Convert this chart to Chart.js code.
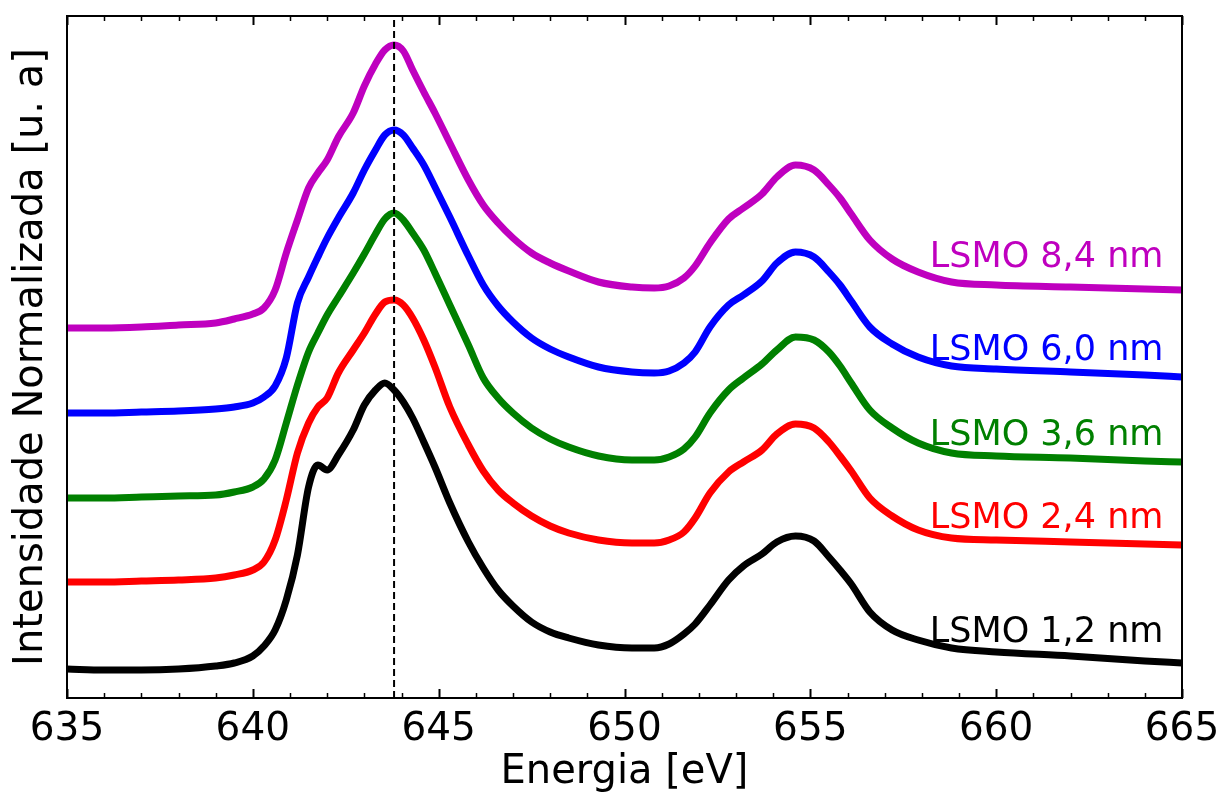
<!DOCTYPE html>
<html>

<head>
	<meta charset="utf-8">
	<script src="https://cdn.jsdelivr.net/npm/chart.js"></script>
	<style>
		body { margin: 0; background: #fff; }
	</style>
</head>

<body>
	<canvas id="myChart" width="1219" height="799"></canvas>
	<script>
		// photon energy (eV), shared by all spectra
		var energy = [635, 636, 637, 638, 639, 639.5, 640, 640.3, 640.6, 640.9,
			641.2, 641.5, 641.75, 642.0, 642.3, 642.7, 643.0, 643.3, 643.55, 643.8,
			644.05, 644.3, 644.6, 644.9, 645.3, 645.8, 646.2, 646.6, 647.0, 647.5,
			648.0, 648.5, 649.3, 650.2, 650.8, 651.2, 651.6, 651.9, 652.3, 652.8,
			653.2, 653.7, 654.1, 654.6, 655.1, 655.5, 655.8, 656.1, 656.6, 657.2,
			657.9, 658.8, 660, 662, 664, 665];

		// normalized intensity (a.u.), curves already shifted vertically
		var lsmo84 = [3.70, 3.70, 3.71, 3.73, 3.75, 3.79, 3.84, 3.90, 4.08, 4.45,
			4.78, 5.10, 5.25, 5.38, 5.61, 5.85, 6.12, 6.34, 6.48, 6.53,
			6.47, 6.28, 6.06, 5.85, 5.55, 5.18, 4.93, 4.75, 4.60, 4.45,
			4.35, 4.27, 4.16, 4.11, 4.10, 4.12, 4.20, 4.32, 4.55, 4.79,
			4.90, 5.04, 5.21, 5.33, 5.28, 5.13, 5.00, 4.84, 4.58, 4.39,
			4.26, 4.16, 4.13, 4.11, 4.09, 4.08];
		var lsmo60 = [2.85, 2.85, 2.86, 2.87, 2.89, 2.91, 2.95, 3.01, 3.12, 3.40,
			3.95, 4.21, 4.41, 4.60, 4.80, 5.05, 5.28, 5.48, 5.63, 5.68,
			5.63, 5.50, 5.33, 5.11, 4.81, 4.42, 4.13, 3.92, 3.76, 3.60,
			3.49, 3.41, 3.31, 3.26, 3.25, 3.27, 3.35, 3.46, 3.71, 3.93,
			4.03, 4.17, 4.35, 4.46, 4.41, 4.26, 4.13, 3.97, 3.71, 3.54,
			3.41, 3.32, 3.29, 3.26, 3.23, 3.21];
		var lsmo36 = [2.00, 2.00, 2.01, 2.02, 2.03, 2.06, 2.11, 2.19, 2.38, 2.75,
			3.13, 3.46, 3.65, 3.83, 4.01, 4.25, 4.44, 4.64, 4.79, 4.85,
			4.78, 4.65, 4.48, 4.25, 3.93, 3.53, 3.20, 3.00, 2.85, 2.70,
			2.59, 2.51, 2.42, 2.38, 2.38, 2.41, 2.49, 2.61, 2.85, 3.08,
			3.20, 3.34, 3.48, 3.61, 3.58, 3.46, 3.32, 3.15, 2.88, 2.70,
			2.55, 2.45, 2.42, 2.40, 2.37, 2.36];
		var lsmo24 = [1.16, 1.16, 1.17, 1.18, 1.20, 1.23, 1.28, 1.36, 1.58, 1.98,
			2.45, 2.75, 2.91, 3.00, 3.25, 3.48, 3.65, 3.84, 3.96, 3.98,
			3.93, 3.80, 3.58, 3.31, 2.91, 2.53, 2.27, 2.08, 1.95, 1.82,
			1.72, 1.65, 1.58, 1.55, 1.55, 1.58, 1.66, 1.80, 2.05, 2.26,
			2.36, 2.48, 2.64, 2.74, 2.70, 2.56, 2.42, 2.27, 2.00, 1.82,
			1.68, 1.60, 1.58, 1.56, 1.54, 1.53];
		var lsmo12 = [0.29, 0.28, 0.28, 0.29, 0.32, 0.35, 0.42, 0.52, 0.68, 0.98,
			1.43, 2.11, 2.33, 2.28, 2.43, 2.68, 2.93, 3.08, 3.15, 3.08,
			2.96, 2.80, 2.56, 2.31, 1.95, 1.56, 1.30, 1.08, 0.92, 0.76,
			0.66, 0.60, 0.53, 0.50, 0.50, 0.54, 0.64, 0.74, 0.93, 1.18,
			1.32, 1.44, 1.56, 1.62, 1.57, 1.41, 1.28, 1.14, 0.86, 0.68,
			0.58, 0.50, 0.46, 0.42, 0.37, 0.35];

		var sampleNames = ['LSMO 8,4 nm', 'LSMO 6,0 nm', 'LSMO 3,6 nm', 'LSMO 2,4 nm', 'LSMO 1,2 nm'];
		var sampleColors = ['#bf00bf', '#0000ff', '#008000', '#ff0000', '#000000'];
		var labelLevels = [4.31, 3.38, 2.53, 1.70, 0.56];
		var labelEnergy = 664.5;
		var peakEnergy = 643.8;

		var series = [lsmo84, lsmo60, lsmo36, lsmo24, lsmo12];
		var yMax = 6.82;

		var datasets = [{
			label: 'pico',
			data: [{ x: peakEnergy, y: 0 }, { x: peakEnergy, y: yMax }],
			borderColor: '#000',
			borderWidth: 2,
			borderDash: [7, 4],
			pointRadius: 0,
			order: 0
		}];
		series.forEach(function (s, i) {
			datasets.push({
				label: sampleNames[i],
				data: s.map(function (v, j) { return { x: energy[j], y: v }; }),
				borderColor: sampleColors[i],
				backgroundColor: sampleColors[i],
				borderWidth: 7,
				borderCapStyle: 'round',
				borderJoinStyle: 'round',
				pointRadius: 0,
				cubicInterpolationMode: 'monotone',
				order: 1
			});
		});

		// frame, inward ticks (top and bottom) and curve names
		var decor = {
			id: 'decor',
			afterDraw: function (chart) {
				var c = chart.ctx, a = chart.chartArea, xs = chart.scales.x, ys = chart.scales.y;
				c.save();
				c.strokeStyle = '#000';
				for (var v = 635; v <= 665; v++) {
					var px = Math.round(xs.getPixelForValue(v)) + 0.5;
					var major = v % 5 === 0;
					var len = major ? 9 : 5;
					c.lineWidth = major ? 2 : 1.5;
					c.beginPath();
					c.moveTo(px, a.bottom); c.lineTo(px, a.bottom - len);
					c.moveTo(px, a.top); c.lineTo(px, a.top + len);
					c.stroke();
				}
				c.lineWidth = 2;
				c.strokeRect(a.left, a.top, a.right - a.left, a.bottom - a.top);

				c.font = '35px "DejaVu Sans"';
				c.textAlign = 'right';
				c.textBaseline = 'alphabetic';
				sampleNames.forEach(function (n, i) {
					c.fillStyle = sampleColors[i];
					c.fillText(n, xs.getPixelForValue(labelEnergy), ys.getPixelForValue(labelLevels[i]));
				});
				c.restore();
			}
		};

		var ctx = document.getElementById('myChart').getContext('2d');
		var chart = new Chart(ctx, {
			type: 'line',
			data: { datasets: datasets },
			plugins: [decor],
			options: {
				responsive: false,
				animation: false,
				devicePixelRatio: 1,
				layout: { padding: { top: 16, right: 37, left: 0, bottom: 0 } },
				plugins: {
					legend: { display: false },
					tooltip: { enabled: false }
				},
				scales: {
					x: {
						type: 'linear',
						min: 635,
						max: 665,
						grid: { display: false, drawTicks: false },
						border: { display: false },
						ticks: {
							stepSize: 5,
							autoSkip: false,
							maxRotation: 0,
							padding: 8,
							color: '#000',
							font: { family: 'DejaVu Sans', size: 39 }
						},
						title: {
							display: true,
							text: 'Energia [eV]',
							color: '#000',
							font: { family: 'DejaVu Sans', size: 40 },
							padding: { top: 0, bottom: 2 }
						},
						afterFit: function (s) {
							s.height = 101;
							s.paddingLeft = 0;
							s.paddingRight = 0;
						}
					},
					y: {
						min: 0,
						max: yMax,
						grid: { display: false, drawTicks: false },
						border: { display: false },
						ticks: { display: false },
						title: {
							display: true,
							text: 'Intensidade Normalizada [u. a]',
							color: '#000',
							font: { family: 'DejaVu Sans', size: 40 },
							padding: { top: 8, bottom: 0 }
						},
						afterFit: function (s) { s.width = 67; }
					}
				}
			}
		});
	</script>
</body>

</html>
